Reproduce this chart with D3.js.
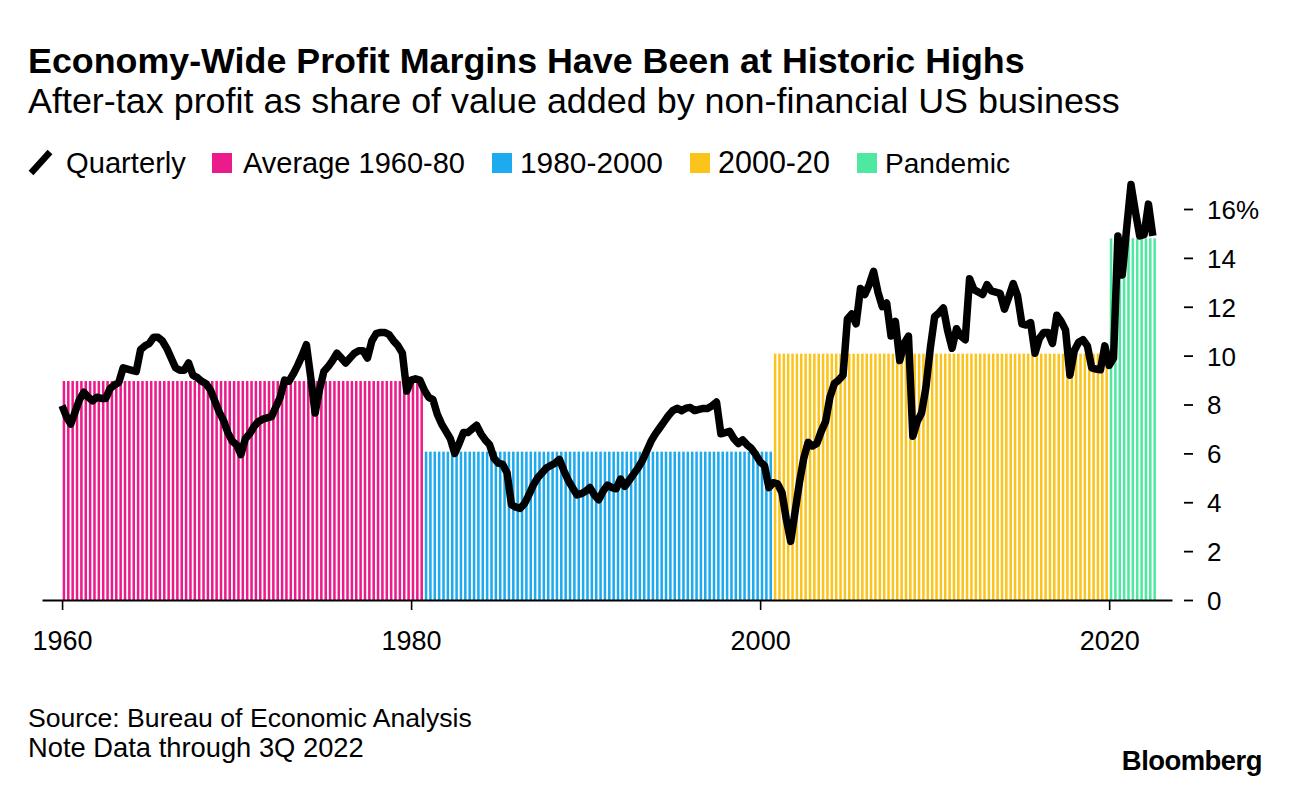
<!DOCTYPE html>
<html>
<head>
<meta charset="utf-8">
<script src="https://cdn.jsdelivr.net/npm/d3@7/dist/d3.min.js"></script>
<style>
  body { margin: 0; background: #fff; }
  svg { display: block; font-family: "Liberation Sans", Arial, sans-serif; }
</style>
</head>
<body>
<svg id="chart" width="1289" height="786"></svg>
<script>
// ---------------- DATA ----------------
const startYear = 1960; // first quarter = 1960Q1, last = 2022Q3
const quarterly = [
  7.95, 7.5, 7.2, 7.7,      // 1960
  8.2, 8.5, 8.3, 8.15,      // 1961
  8.3, 8.25, 8.25, 8.65,    // 1962
  8.8, 8.9, 9.5, 9.45,      // 1963
  9.4, 9.35, 10.25, 10.4,   // 1964
  10.5, 10.75, 10.75, 10.6, // 1965
  10.3, 9.9, 9.5, 9.4,      // 1966
  9.4, 9.7, 9.2, 9.1,       // 1967
  8.95, 8.85, 8.6, 8.15,    // 1968
  7.7, 7.35, 6.85, 6.5,     // 1969
  6.35, 5.95, 6.6, 6.8,     // 1970
  7.1, 7.3, 7.4, 7.45,      // 1971
  7.5, 7.9, 8.3, 9.0,       // 1972
  8.95, 9.25, 9.6, 10.0,    // 1973
  10.45, 9.1, 7.65, 8.6,    // 1974
  9.35, 9.55, 9.8, 10.1,    // 1975
  9.9, 9.7, 9.9, 10.1,      // 1976
  10.2, 10.2, 9.9, 10.6,    // 1977
  10.9, 10.95, 10.95, 10.85,// 1978
  10.6, 10.4, 10.1, 8.55,   // 1979
  9.0, 9.05, 9.0, 8.6,      // 1980
  8.3, 8.2, 7.6, 7.2,       // 1981
  6.9, 6.6, 6.0, 6.4,       // 1982
  6.85, 6.85, 7.0, 7.15,    // 1983
  6.8, 6.55, 6.35, 5.8,     // 1984
  5.6, 5.55, 5.2, 3.9,      // 1985
  3.8, 3.75, 3.95, 4.3,     // 1986
  4.7, 5.0, 5.2, 5.4,       // 1987
  5.5, 5.6, 5.75, 5.3,      // 1988
  4.9, 4.6, 4.3, 4.35,      // 1989
  4.45, 4.6, 4.3, 4.1,      // 1990
  4.45, 4.7, 4.6, 4.55,     // 1991
  4.95, 4.65, 4.9, 5.15,    // 1992
  5.4, 5.7, 6.1, 6.5,       // 1993
  6.8, 7.05, 7.3, 7.55,     // 1994
  7.75, 7.85, 7.75, 7.85,   // 1995
  7.88, 7.75, 7.8, 7.84,    // 1996
  7.84, 7.95, 8.1, 6.8,     // 1997
  6.85, 6.9, 6.6, 6.4,      // 1998
  6.55, 6.35, 6.2, 5.95,    // 1999
  5.65, 5.5, 4.6, 4.8,      // 2000
  4.75, 4.4, 3.3, 2.4,      // 2001
  3.6, 4.8, 5.8, 6.45,      // 2002
  6.3, 6.4, 6.9, 7.3,       // 2003
  8.3, 8.85, 9.0, 9.2,      // 2004
  11.5, 11.7, 11.3, 12.75,  // 2005
  12.5, 12.9, 13.45, 12.6,  // 2006
  12.0, 12.15, 10.8, 11.4,  // 2007
  9.8, 10.5, 10.8, 6.7,     // 2008
  7.3, 7.65, 8.7, 10.3,     // 2009
  11.6, 11.75, 11.95, 11.0, // 2010
  10.3, 11.1, 10.8, 10.65,  // 2011
  13.15, 12.7, 12.6, 12.5,  // 2012
  12.9, 12.65, 12.6, 12.55, // 2013
  11.9, 12.4, 12.95, 12.45, // 2014
  11.3, 11.25, 11.35, 10.1, // 2015
  10.7, 10.95, 10.95, 10.5, // 2016
  11.65, 11.4, 11.05, 9.2,  // 2017
  10.2, 10.55, 10.65, 10.4, // 2018
  9.5, 9.45, 9.42, 10.4,    // 2019
  9.6, 9.9, 14.9, 13.3,     // 2020
  15.2, 17.0, 15.9, 14.9,   // 2021
  14.95, 16.2, 14.9         // 2022 (through 3Q)
];

// Average periods (first and last quarter start, as decimal years)
const periodNames   = ["Average 1960-80", "1980-2000", "2000-20", "Pandemic"];
const periodStart   = [1960, 1980.75, 2000.75, 2020];
const periodEnd     = [1980.5, 2000.5, 2019.75, 2022.5];
const periodAverage = [8.96, 6.07, 10.08, 14.8];

const xTickYears  = [1960, 1980, 2000, 2020];
const yTickValues = [0, 2, 4, 6, 8, 10, 12, 14, 16];

const titleText    = "Economy-Wide Profit Margins Have Been at Historic Highs";
const subtitleText = "After-tax profit as share of value added by non-financial US business";
const lineLegend   = "Quarterly";
const sourceText   = "Source: Bureau of Economic Analysis";
const noteText     = "Note Data through 3Q 2022";
const brandText    = "Bloomberg";

// ---------------- STYLE ----------------
const periodColors = ["#ec1b8b", "#1eaaee", "#fbc41c", "#4fe8a0"];
const FONT = "'Liberation Sans', Arial, sans-serif";

const svg = d3.select("#chart");

const x = d3.scaleLinear().domain([1958.85, 2023.6]).range([42, 1172]);
const y = d3.scaleLinear().domain([0, 16]).range([600, 209]);
const step = x(1960.25) - x(1960);

// Build quarter records
const records = quarterly.map((v, i) => {
  const t = startYear + i / 4;
  let p = -1;
  periodStart.forEach((s, k) => { if (t >= s - 1e-6 && t <= periodEnd[k] + 1e-6) p = k; });
  return { t, v, p };
});

// Bars (average per period, one per quarter)
svg.append("g").selectAll("rect")
  .data(records.filter(d => d.p >= 0))
  .join("rect")
  .attr("x", d => x(d.t) + 0.6)
  .attr("width", step * 0.58)
  .attr("y", d => y(periodAverage[d.p]))
  .attr("height", d => y(0) - y(periodAverage[d.p]))
  .attr("fill", d => periodColors[d.p]);

// X axis
const xAxis = d3.axisBottom(x)
  .tickValues(xTickYears)
  .tickFormat(d3.format("d"))
  .tickSize(10)
  .tickSizeOuter(0);
const gx = svg.append("g").attr("transform", `translate(0,${y(0)})`).call(xAxis);
gx.select(".domain").attr("stroke", "#000").attr("stroke-width", 2);
gx.selectAll(".tick line").attr("stroke", "#000").attr("stroke-width", 1.6);
gx.selectAll(".tick text")
  .attr("y", 50).attr("dy", 0)
  .attr("fill", "#000")
  .style("font-size", "27px")
  .style("font-family", FONT);

// Y axis (right side)
const yAxis = d3.axisRight(y)
  .tickValues(yTickValues)
  .tickFormat(d => d === 16 ? "16%" : d)
  .tickSize(0)
  .tickPadding(0);
const gy = svg.append("g").attr("transform", "translate(1184,0)").call(yAxis);
gy.select(".domain").remove();
gy.selectAll(".tick").append("line")
  .attr("x1", 0).attr("x2", 9)
  .attr("stroke", "#000").attr("stroke-width", 1.8);
gy.selectAll(".tick text")
  .attr("x", 23)
  .attr("dy", "0.36em")
  .attr("fill", "#000")
  .style("font-size", "26px")
  .style("font-family", FONT);

// Line
const line = d3.line().x(d => x(d.t)).y(d => y(d.v)).curve(d3.curveLinear);
svg.append("path")
  .datum(records)
  .attr("d", line)
  .attr("fill", "none")
  .attr("stroke", "#000")
  .attr("stroke-width", 7.5)
  .attr("stroke-linejoin", "round")
  .attr("stroke-linecap", "butt");

// Title & subtitle
function fit(sel, target) {
  const w = sel.node().getComputedTextLength();
  const fs = parseFloat(sel.style("font-size"));
  sel.style("font-size", (fs * target / w) + "px");
}
const title = svg.append("text").attr("x", 28).attr("y", 73)
  .attr("fill", "#000").style("font-weight", "bold").style("font-size", "31px").text(titleText);
fit(title, 997);
const subtitle = svg.append("text").attr("x", 28).attr("y", 113)
  .attr("fill", "#000").style("font-size", "27px").text(subtitleText);
fit(subtitle, 1092);

// Legend
const lg = svg.append("g");
lg.append("line").attr("x1", 31).attr("y1", 173).attr("x2", 50).attr("y2", 152)
  .attr("stroke", "#000").attr("stroke-width", 6.5).attr("stroke-linecap", "butt");
const lq = lg.append("text").attr("x", 66).attr("y", 173).style("font-size", "29px").attr("fill", "#000").text(lineLegend);
fit(lq, 120);
const legendSquareX = [212, 492, 690, 857];
const legendTextX = [243, 520, 718, 885];
const legendTextW = [222, 143, 112, 125];
periodNames.forEach((n, k) => {
  lg.append("rect").attr("x", legendSquareX[k]).attr("y", 153).attr("width", 20).attr("height", 20)
    .attr("fill", periodColors[k]);
  const t = lg.append("text").attr("x", legendTextX[k]).attr("y", 173).style("font-size", "29px")
    .attr("fill", "#000").text(n);
  fit(t, legendTextW[k]);
});

// Footer
const src = svg.append("text").attr("x", 28).attr("y", 727).style("font-size", "22px").attr("fill", "#000").text(sourceText);
fit(src, 444);
const note = svg.append("text").attr("x", 28).attr("y", 757).style("font-size", "22px").attr("fill", "#000").text(noteText);
fit(note, 336);
const brand = svg.append("text").attr("x", 1262).attr("y", 770).attr("text-anchor", "end")
  .style("font-size", "26px").style("font-weight", "bold").style("letter-spacing", "-0.5px")
  .attr("fill", "#000").text(brandText);
fit(brand, 140);
</script>
</body>
</html>
